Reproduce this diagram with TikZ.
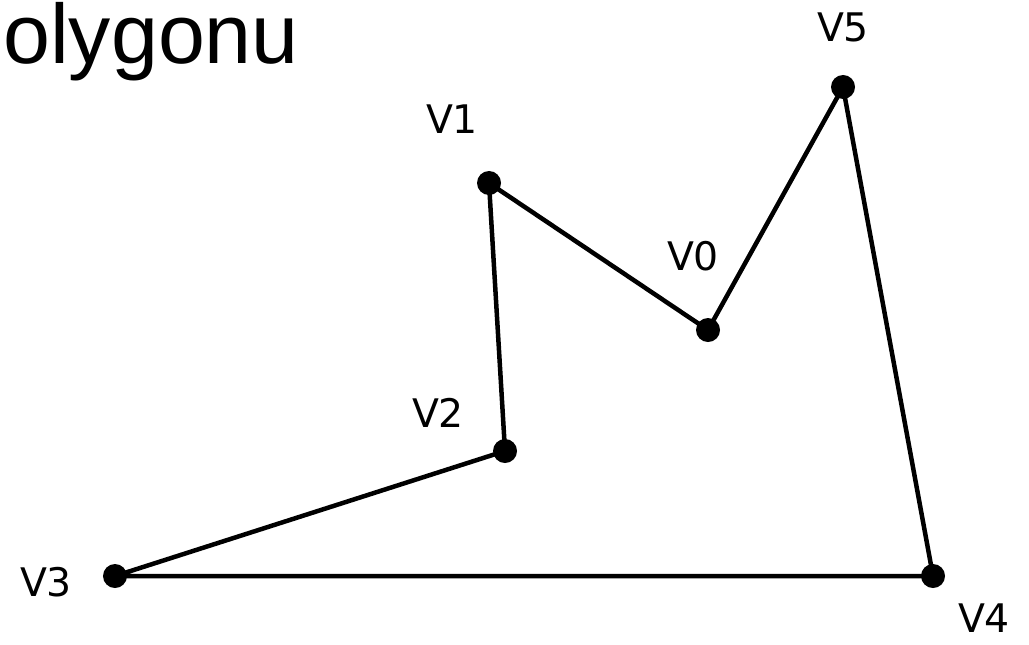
\documentclass[tikz,border=0pt]{standalone}
\usepackage{fontspec}
\setmainfont{DejaVu Sans}
\newfontfamily\titlefont{Liberation Sans}
\usetikzlibrary{positioning}
\tikzset{
  vertex/.style={circle, fill=black, inner sep=0pt, minimum size=0.6cm},
  vlabel/.style={font=\fontsize{28}{32}\selectfont, inner sep=0pt},
  edge/.style={line width=3.2pt, line join=round},
}

\begin{document}
\begin{tikzpicture}[x=0.025cm, y=-0.025cm]

  \useasboundingbox (0,0) rectangle (1029,644);

  % Title (cut off at the left)
  \node[anchor=base west, inner sep=0pt, font=\titlefont\fontsize{60}{70}\selectfont] (title) at (3,64) {olygonu};

  % Vertices
  \node[vertex] (v0) at (708,330) {};
  \node[vertex] (v1) at (489,183) {};
  \node[vertex] (v2) at (505,451) {};
  \node[vertex] (v3) at (115,576) {};
  \node[vertex] (v4) at (933,576) {};
  \node[vertex] (v5) at (843,87) {};

  % Labels
  \node[vlabel] (l0) at (693,256) {V0};
  \node[vlabel] (l1) at (452,119) {V1};
  \node[vlabel] (l2) at (438,413) {V2};
  \node[vlabel] (l3) at (46,582) {V3};
  \node[vlabel] (l4) at (984,618) {V4};
  \node[vlabel] (l5) at (843,27) {V5};

  % Polygon edges
  \draw[edge] (v0.center) -- (v1.center) -- (v2.center) -- (v3.center)
    -- (v4.center) -- (v5.center) -- (v0.center);

\end{tikzpicture}
\end{document}
